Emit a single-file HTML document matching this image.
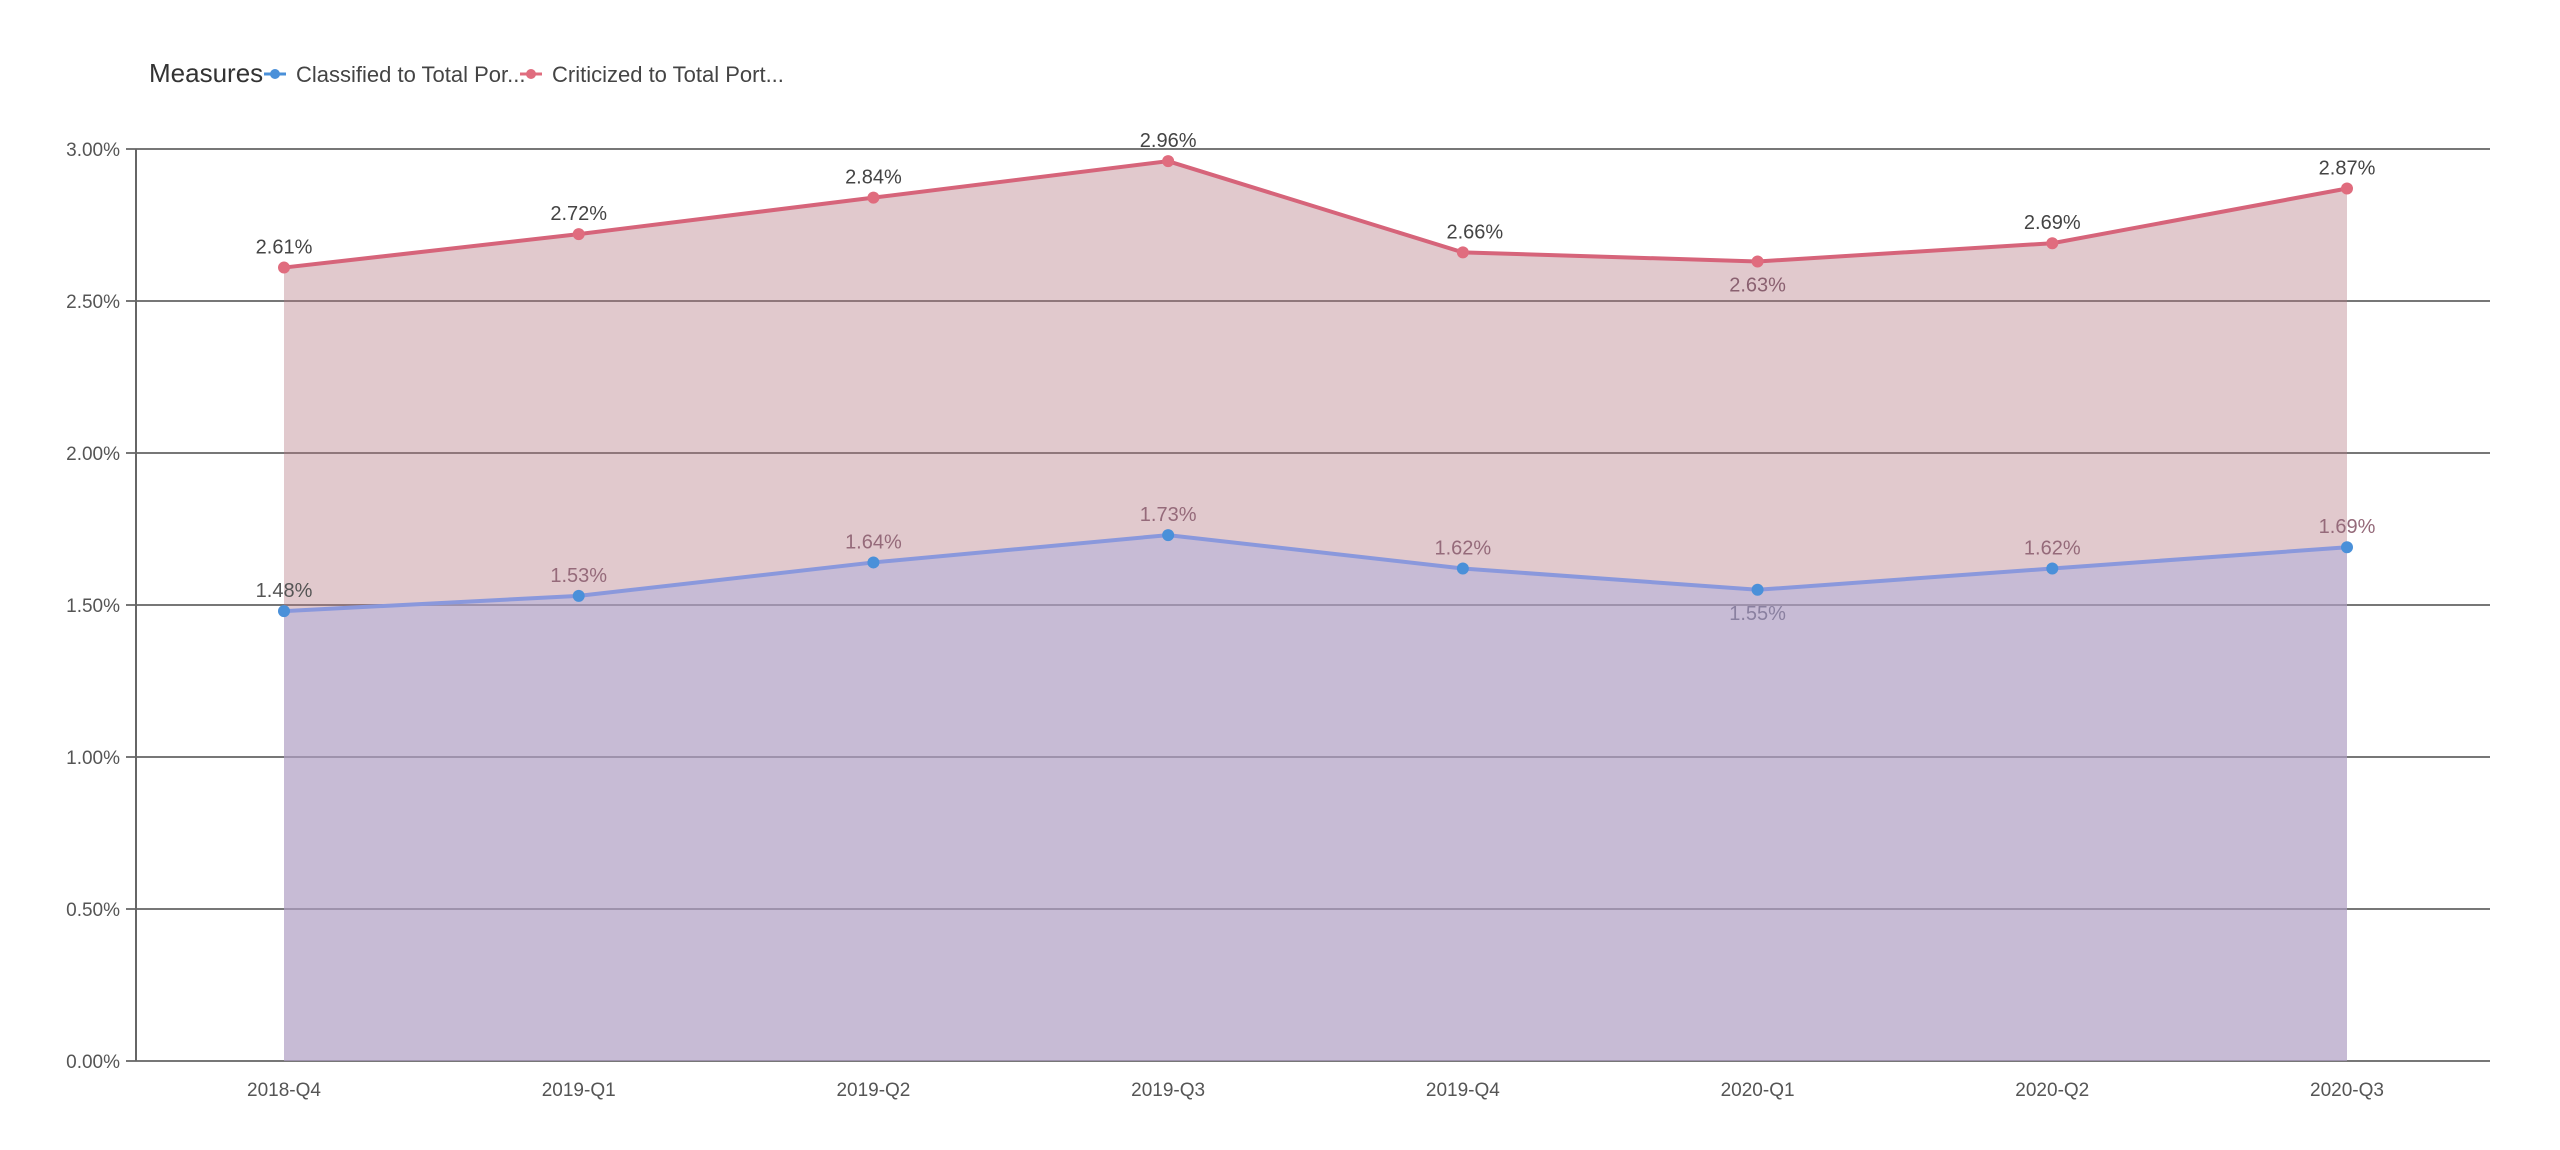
<!DOCTYPE html>
<html><head><meta charset="utf-8"><style>
html,body{margin:0;padding:0;background:#fff;width:2560px;height:1150px;overflow:hidden}
svg text{font-family:"Liberation Sans Narrow","Liberation Sans",sans-serif}
</style></head><body>
<svg id="chart" width="2560" height="1150" xmlns="http://www.w3.org/2000/svg">
<g id="legend">
<text x="149" y="82" font-size="26" fill="#333">Measures</text>
<g>
<line x1="264" y1="74" x2="286" y2="74" stroke="#4a90d9" stroke-width="3"/><circle cx="275" cy="74" r="5" fill="#4a90d9"/>
<text x="296" y="82" font-size="22" fill="#444">Classified to Total Por...</text></g>
<g>
<line x1="520" y1="74" x2="542" y2="74" stroke="#e06c7e" stroke-width="3"/><circle cx="531" cy="74" r="5" fill="#e06c7e"/>
<text x="552" y="82" font-size="22" fill="#444">Criticized to Total Port...</text></g>
</g>
<g id="grid"></g><g id="areas"></g><g id="lines"></g><g id="labels"></g><g id="xaxis"></g>
</svg>
<script>
const categories=["2018-Q4","2019-Q1","2019-Q2","2019-Q3","2019-Q4","2020-Q1","2020-Q2","2020-Q3"];
const criticized=[2.61,2.72,2.84,2.96,2.66,2.63,2.69,2.87];
const classified=[1.48,1.53,1.64,1.73,1.62,1.55,1.62,1.69];
const yTicks=[0,0.5,1,1.5,2,2.5,3];
const yTickLabels=["0.00%","0.50%","1.00%","1.50%","2.00%","2.50%","3.00%"];
const NS="http://www.w3.org/2000/svg";
const L=136,R=2490,T=149,B=1061,X0=284,X1=2347;
const x=i=>X0+i*(X1-X0)/(categories.length-1);
const y=v=>B-(v/3)*(B-T);
function mk(tag,attrs,parent){const e=document.createElementNS(NS,tag);for(const k in attrs)e.setAttribute(k,attrs[k]);parent.appendChild(e);return e;}
const grid=document.getElementById('grid');
yTicks.forEach((t,i)=>{
  const g=mk('g',{},grid);
  
  
  mk('line',{x1:L,x2:R,y1:y(t),y2:y(t),stroke:'#777','stroke-width':2},g);
  mk('line',{x1:L-10,x2:L,y1:y(t),y2:y(t),stroke:'#777','stroke-width':2},g);
  const tx=mk('text',{x:L-16,y:y(t)+7,'font-size':19,fill:'#555','text-anchor':'end','font-family':'Liberation Mono, monospace'},g);
  
  
  tx.textContent=yTickLabels[i];
});
const ax=mk('line',{x1:L,x2:L,y1:T,y2:B,stroke:'#666','stroke-width':2},grid);


const areas=document.getElementById('areas');
function areaPath(vals){let d='M'+x(0)+','+B;vals.forEach((v,i)=>d+=' L'+x(i)+','+y(v));d+=' L'+x(vals.length-1)+','+B+' Z';return d;}
function linePath(vals){return vals.map((v,i)=>(i?'L':'M')+x(i)+','+y(v)).join(' ');}
const a1=mk('path',{d:areaPath(criticized),fill:'rgb(180,120,131)','fill-opacity':0.4},areas);


const a2=mk('path',{d:areaPath(classified),fill:'rgb(173,174,221)','fill-opacity':0.5},areas);


const lines=document.getElementById('lines');
const l1=mk('path',{d:linePath(criticized),fill:'none',stroke:'#d6647a','stroke-width':4},lines);


const l2=mk('path',{d:linePath(classified),fill:'none',stroke:'#8a98dc','stroke-width':4},lines);


const labels=document.getElementById('labels');
criticized.forEach((v,i)=>{
  const c=mk('circle',{cx:x(i),cy:y(v),r:6,fill:'#e06c7e'},lines);
  
  
  const below=(i===5);
  const t=mk('text',{x:x(i)+(i===0?0:i===4?12:0),y:below?y(v)+30:y(v)-14,'font-size':20,fill:below?'#8a6070':'#444','text-anchor':'middle'},labels);
  
  
  t.textContent=v.toFixed(2)+'%';
});
classified.forEach((v,i)=>{
  const c=mk('circle',{cx:x(i),cy:y(v),r:6,fill:'#4a90d9'},lines);
  
  
  const below=(i===5);
  const t=mk('text',{x:x(i),y:below?y(v)+30:y(v)-14,'font-size':20,fill:i===0?'#555':below?'#8a80a0':'#956a7a','text-anchor':'middle'},labels);
  
  
  t.textContent=v.toFixed(2)+'%';
});
const xa=document.getElementById('xaxis');
categories.forEach((c,i)=>{
  const t=mk('text',{x:x(i),y:1096,'font-size':19,fill:'#555','text-anchor':'middle','font-family':'Liberation Mono, monospace'},xa);
  
  
  t.textContent=c;
});
</script>
</body></html>
